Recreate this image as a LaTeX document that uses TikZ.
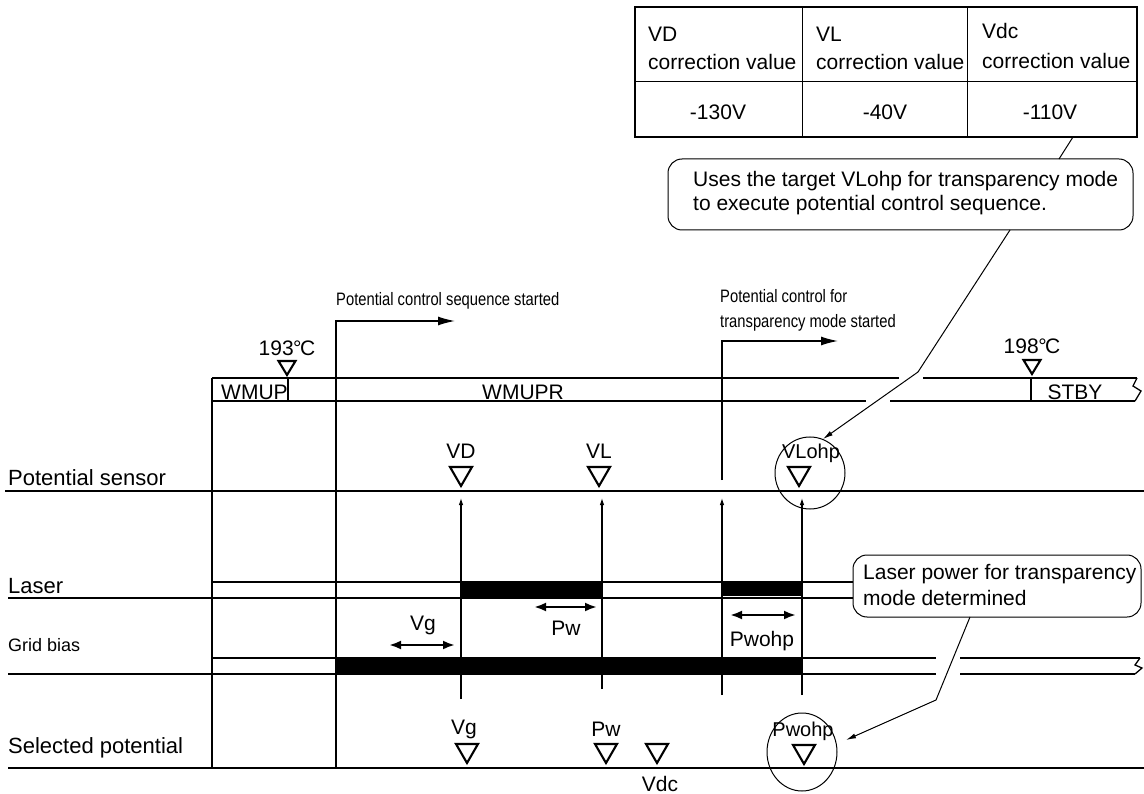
\documentclass[tikz,border=0pt]{standalone}
\usepackage{fontspec}
\setmainfont{Liberation Sans}
\usetikzlibrary{arrows.meta}
\tikzset{
  tri/.pic={\draw[line width=2.1pt,line join=miter] (-11,-9) -- (11,-9) -- (0,10) -- cycle;},
  smalltri/.pic={\draw[line width=2.1pt,line join=miter] (-8.5,-7) -- (8.5,-7) -- (0,7) -- cycle;},
  ln/.style={line width=1.3pt},
  lbl/.style={font=\fontsize{21}{25}\selectfont, inner sep=0pt},
  smlbl/.style={font=\fontsize{20}{24}\selectfont, inner sep=0pt},
  sidelbl/.style={font=\fontsize{22}{26}\selectfont, inner sep=0pt, anchor=west},
  narrowlbl/.style={font=\fontsize{18}{25}\selectfont, inner sep=0pt, anchor=west},
  varrow/.style={line width=1.1pt, -{Latex[length=7pt,width=4.5pt]}},
  dblarrow/.style={line width=2.6pt, {Latex[length=12pt,width=9pt]}-{Latex[length=12pt,width=9pt]}},
  startarrow/.style={line width=1.4pt, -{Latex[length=17pt,width=9pt]}},
  leader/.style={line width=1pt},
  leaderarrow/.style={line width=1pt, -{Latex[length=10pt,width=5pt]}},
  cbox/.style={draw, line width=1pt, rounded corners=14pt, fill=white, inner sep=0pt},
  ctext/.style={align=left, inner sep=0pt, anchor=west},
  bar/.style={fill=black},
}
\begin{document}
\begin{tikzpicture}[x=1pt,y=-1pt]
\useasboundingbox (0,0) rectangle (1144,794);

% ---------- table ----------
\draw[line width=2.6pt] (635,7) rectangle (1137,137);
\draw[line width=1pt] (802,7) -- (802,137) (967,7) -- (967,137) (635,82) -- (1137,82);
\node[lbl,anchor=west] (tvd) at (648,34) {VD};
\node[lbl,anchor=west] (tvdc) at (648,62) {correction value};
\node[lbl,anchor=west] (tvl) at (816,34) {VL};
\node[lbl,anchor=west] (tvlc) at (816,62) {correction value};
\node[lbl,anchor=west] (tvdcv) at (982,31) {Vdc};
\node[lbl,anchor=west] (tvdcc) at (982,61) {correction value};
\node[lbl] (v1) at (718,112) {-130V};
\node[lbl] (v2) at (885,112) {-40V};
\node[lbl] (v3) at (1050,112) {-110V};

% ---------- callout 1 ----------
\node[cbox, minimum width=465pt, minimum height=71pt] (c1) at (900.5,194.5) {};
\node[ctext, font=\fontsize{21}{24}\selectfont] (c1t) at (693,193)
  {Uses the target VLohp for transparency mode\\to execute potential control sequence.};
\coordinate (tabbot) at (1073,137);
\coordinate (c1top) at (1059,159);
\draw[leader] (tabbot) -- (c1top);

% ---------- band WMUP / STBY ----------
\draw[ln] (212,378) -- (899,378) (923,378) -- (1137,378);
\draw[ln] (212,401) -- (866,401) (890,401) -- (1135,401);
\draw[ln] (1137,378) -- (1133,386) -- (1141,391) -- (1135,401);
\draw[ln] (288,378) -- (288,401);
\draw[ln] (1031,378) -- (1031,401);
\node[lbl,anchor=west] (wmup) at (221,392) {WMUP};
\node[lbl,anchor=west] (wmupr) at (482,392) {WMUPR};
\node[lbl] (stby) at (1075,392) {STBY};
\node[lbl] (t193) at (287,348) {193\kern-0.5pt\textdegree\kern-1.5pt C};
\pic at (287,368) {smalltri};
\node[lbl] (t198) at (1032,346) {198\kern-0.5pt\textdegree\kern-1.5pt C};
\pic at (1032,367) {smalltri};

% ---------- long verticals ----------
\draw[ln] (212,378) -- (212,768);
\coordinate (s1b) at (336,768);
\coordinate (s1c) at (336,321);
\coordinate (s1e) at (455,321);
\draw[startarrow] (s1b) -- (s1c) -- (s1e);
\node[narrowlbl] (s1t) at (336,301) {\scalebox{0.82}[1]{Potential control sequence started}};
\coordinate (s2b) at (722,480);
\coordinate (s2c) at (722,341);
\coordinate (s2e) at (838,341);
\draw[startarrow] (s2b) -- (s2c) -- (s2e);
\node[narrowlbl, align=left] (s2t) at (720,310) {\scalebox{0.82}[1]{Potential control for}\\\scalebox{0.82}[1]{transparency mode started}};

% ---------- potential sensor ----------
\node[sidelbl] (ps) at (8,478) {Potential sensor};
\draw[ln] (5,491) -- (1144,491);
\node[lbl] (vd) at (461,451) {VD};
\pic at (461,476) {tri};
\node[lbl] (vl) at (599,451) {VL};
\pic at (599,476) {tri};
\node[smlbl] (vlohp) at (811,453) {VLohp};
\pic at (799,476) {tri};
\draw[line width=1pt] (810,473) ellipse [x radius=35, y radius=36];

% ---------- laser ----------
\node[sidelbl] (laser) at (8,586) {Laser};
\draw[ln] (212,582) -- (853,582);
\draw[ln] (8,598) -- (853,598);
\fill[bar] (461,583) rectangle (602,597);
\fill[bar] (722,583) rectangle (802,596);

% ---------- grid bias ----------
\node[sidelbl, font=\fontsize{18}{22}\selectfont] (gb) at (8,645) {Grid bias};
\draw[ln] (212,658) -- (936,658) (960,658) -- (1140,658);
\draw[ln] (8,674) -- (936,674) (960,674) -- (1135,674);
\draw[ln] (1140,658) -- (1135,665) -- (1142,668) -- (1135,674);
\fill[bar] (336,659) rectangle (802,673);

% ---------- vertical arrows ----------
\coordinate (a1b) at (461,699); \coordinate (a1t) at (461,498);
\coordinate (a2b) at (602,689); \coordinate (a2t) at (602,498);
\coordinate (a3b) at (722,695); \coordinate (a3t) at (722,498);
\coordinate (a4b) at (802,695); \coordinate (a4t) at (802,498);
\draw[varrow] (a1b) -- (a1t);
\draw[varrow] (a2b) -- (a2t);
\draw[varrow] (a3b) -- (a3t);
\draw[varrow] (a4b) -- (a4t);

% ---------- double arrows ----------
\coordinate (vgL) at (389,645); \coordinate (vgR) at (455,645);
\draw[dblarrow] (vgL) -- (vgR);
\node[lbl] (vgt) at (423,625) {Vg};
\coordinate (pwL) at (534,607); \coordinate (pwR) at (597,607);
\draw[dblarrow] (pwL) -- (pwR);
\node[lbl] (pwt) at (566,628) {Pw};
\coordinate (poL) at (730,615); \coordinate (poR) at (796,615);
\draw[dblarrow] (poL) -- (poR);
\node[lbl] (pot) at (762,641) {Pwohp};

% ---------- callout 2 ----------
\node[cbox, minimum width=288pt, minimum height=62pt] (c2) at (997,586) {};
\node[ctext, font=\fontsize{21}{26}\selectfont] (c2t) at (863,585)
  {Laser power for transparency\\mode determined};

% ---------- selected potential ----------
\node[sidelbl] (sp) at (8,748) {Selected potential};
\draw[ln] (8,768) -- (1144,768);
\node[lbl] (vgs) at (464,729) {Vg};
\pic at (467,753) {tri};
\node[lbl] (pws) at (606,729) {Pw};
\pic at (606,753) {tri};
\pic at (657,753) {tri};
\node[lbl] (vdc) at (660,784) {Vdc};
\node[smlbl] (pwohps) at (803,731) {Pwohp};
\pic at (804,754) {tri};
\draw[line width=1pt] (802,752) ellipse [x radius=35, y radius=39];

% ---------- leaders ----------
\coordinate (l1a) at (1010,230);
\coordinate (l1b) at (918,372);
\coordinate (l1c) at (823,439);
\draw[leaderarrow] (l1a) -- (l1b) -- (l1c);
\coordinate (l2a) at (970,617);
\coordinate (l2b) at (936,700);
\coordinate (l2c) at (846,740);
\draw[leaderarrow] (l2a) -- (l2b) -- (l2c);
\end{tikzpicture}
\end{document}
